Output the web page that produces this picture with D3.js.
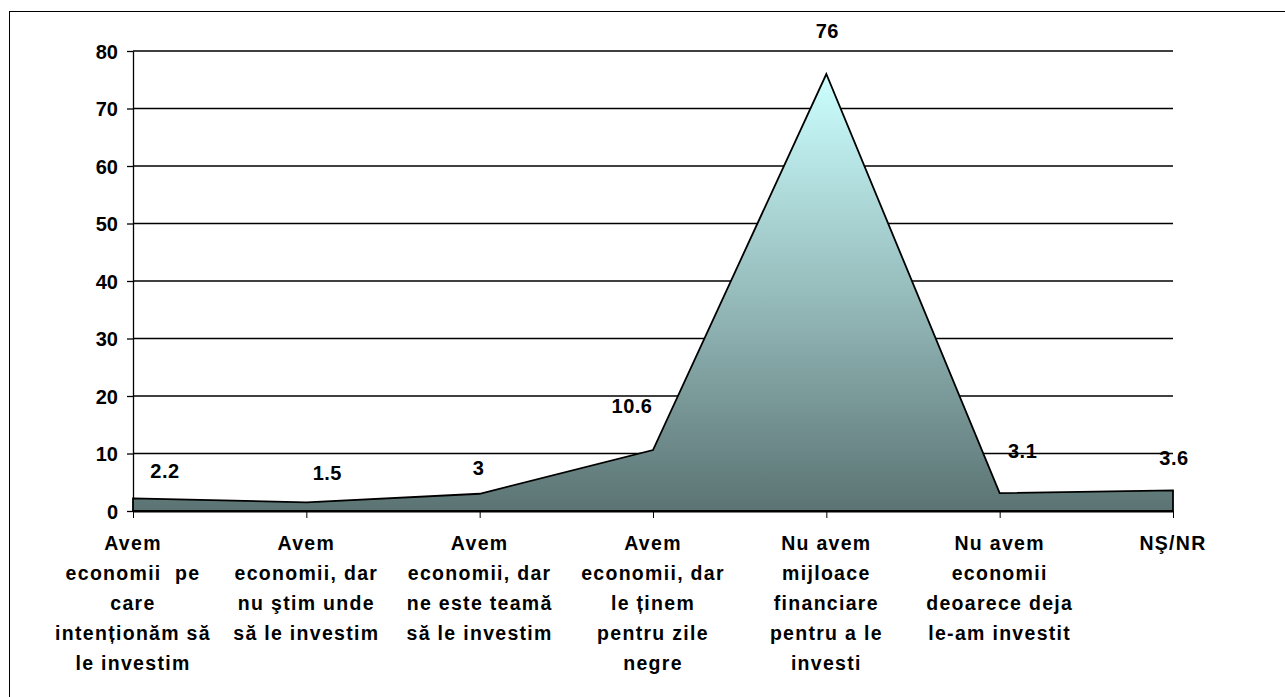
<!DOCTYPE html>
<html>
<head>
<meta charset="utf-8">
<script src="https://cdn.jsdelivr.net/npm/d3@7"></script>
<style>
    body { margin: 0; background: #fff; }
    text { font-family: "Liberation Sans", Arial, sans-serif; font-weight: bold; fill: #000; white-space: pre; }
</style>
</head>
<body>
<div id="chart"></div>
<script>
// categorii (randuri pe axa x)
const categories = [
    ['Avem', 'economii  pe', 'care', 'intenționăm să', 'le investim'],
    ['Avem', 'economii, dar', 'nu ştim unde', 'să le investim'],
    ['Avem', 'economii, dar', 'ne este teamă', 'să le investim'],
    ['Avem', 'economii, dar', 'le ținem', 'pentru zile', 'negre'],
    ['Nu avem', 'mijloace', 'financiare', 'pentru a le', 'investi'],
    ['Nu avem', 'economii', 'deoarece deja', 'le-am investit'],
    ['NŞ/NR']
];
const values = [2.2, 1.5, 3, 10.6, 76, 3.1, 3.6];
const yTicks = [0, 10, 20, 30, 40, 50, 60, 70, 80];

// pozitia etichetelor fata de punct (mutate manual in original)
const labelShift = [[32, -20], [21, -22], [-1, -19], [-21, -37], [1, -36], [23, -35], [1, -25]];

const width = 1285, height = 697;
const margin = {left: 133, right: 112, top: 51, bottom: 186};

const svg = d3.select('#chart').append('svg')
    .attr('width', width)
    .attr('height', height);

// cadrul exterior
svg.append('rect')
    .attr('x', 9.5).attr('y', 11.5)
    .attr('width', 1400).attr('height', 800)
    .attr('fill', 'none').attr('stroke', '#000').attr('stroke-width', 1);

const x = d3.scalePoint()
    .domain(d3.range(categories.length))
    .range([margin.left, width - margin.right]);
const y = d3.scaleLinear()
    .domain([0, 80])
    .range([height - margin.bottom, margin.top]);

// gradient
const grad = svg.append('defs').append('linearGradient')
    .attr('id', 'fillGrad')
    .attr('gradientUnits', 'userSpaceOnUse')
    .attr('x1', 0).attr('x2', 0)
    .attr('y1', y(d3.max(values))).attr('y2', y(0));
grad.append('stop').attr('offset', '0%').attr('stop-color', '#ccffff');
grad.append('stop').attr('offset', '50%').attr('stop-color', '#97bcbc');
grad.append('stop').attr('offset', '100%').attr('stop-color', '#5b7373');

// grila
const yAxis = svg.append('g')
    .attr('transform', `translate(${margin.left},0)`)
    .call(d3.axisLeft(y).tickValues(yTicks).tickSize(6).tickPadding(9).tickSizeOuter(0));
yAxis.select('.domain').attr('stroke', '#000').attr('stroke-width', 1.3);
yAxis.selectAll('.tick line').attr('stroke', '#000').attr('stroke-width', 1.3);
yAxis.selectAll('.tick text')
    .style('font-size', '20px')
    .attr('dy', '0.36em')
    .attr('fill', '#000');

svg.append('g').selectAll('line')
    .data(yTicks.filter(d => d > 0))
    .join('line')
    .attr('x1', margin.left).attr('x2', width - margin.right)
    .attr('y1', d => y(d)).attr('y2', d => y(d))
    .attr('stroke', '#000').attr('stroke-width', 1.3);

// aria
const area = d3.area()
    .x((d, i) => x(i))
    .y0(y(0))
    .y1(d => y(d));

svg.append('path')
    .datum(values)
    .attr('d', area)
    .attr('fill', 'url(#fillGrad)')
    .attr('stroke', '#000')
    .attr('stroke-width', 1.8)
    .attr('stroke-linejoin', 'miter');

// axa x
const xAxis = svg.append('g')
    .attr('transform', `translate(0,${y(0)})`)
    .call(d3.axisBottom(x).tickSize(7).tickSizeOuter(0).tickFormat(''));
xAxis.select('.domain').attr('stroke', '#000').attr('stroke-width', 2.2);
xAxis.selectAll('.tick line').attr('stroke', '#000');

// etichete categorii
const catG = svg.append('g').selectAll('text')
    .data(categories)
    .join('text')
    .attr('text-anchor', 'middle')
    .style('font-size', '19.5px')
    .style('letter-spacing', '1.3px');
catG.selectAll('tspan')
    .data((d, i) => d.map(line => ({line, i})))
    .join('tspan')
    .attr('x', d => x(d.i))
    .attr('y', (d, j) => y(0) + 39 + j * 30)
    .text(d => d.line);

// etichete valori
svg.append('g').selectAll('text')
    .data(values)
    .join('text')
    .attr('text-anchor', 'middle')
    .style('font-size', '20px')
    .style('letter-spacing', '0.5px')
    .attr('x', (d, i) => x(i) + labelShift[i][0])
    .attr('y', (d, i) => y(d) + labelShift[i][1])
    .text(d => d);
</script>
</body>
</html>
